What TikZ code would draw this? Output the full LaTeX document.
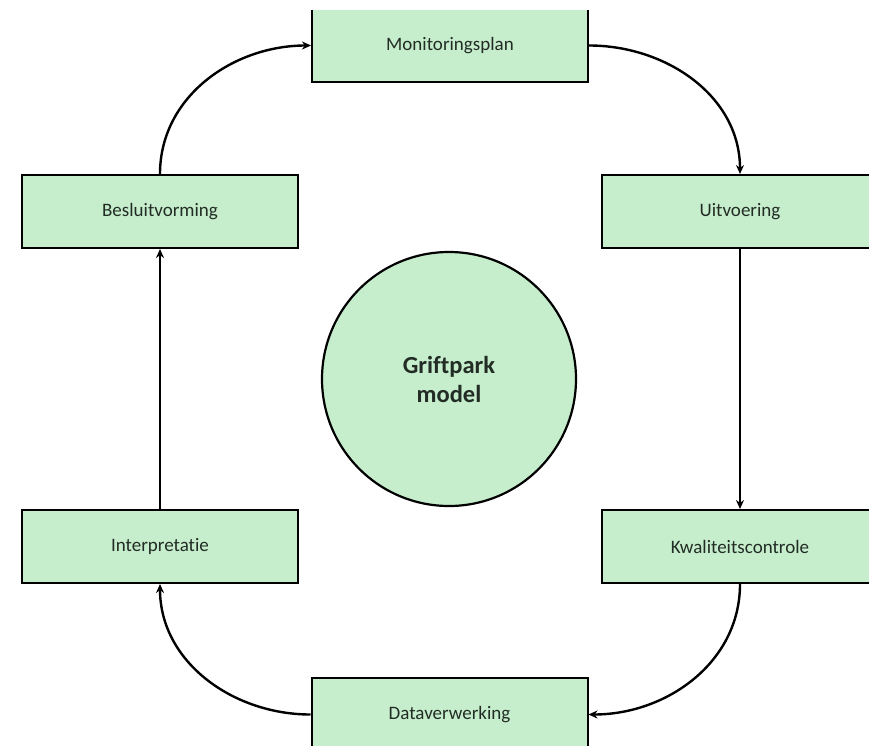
\documentclass[tikz,border=0pt]{standalone}
\usepackage{fontspec}
\setmainfont[Ligatures=NoCommon]{Carlito}
\usetikzlibrary{arrows.meta}
\definecolor{boxfill}{RGB}{198,238,205}
\definecolor{txt}{RGB}{34,44,36}
\tikzset{
  stepbox/.style={draw=black, line width=2pt, fill=boxfill, minimum width=276pt, minimum height=73pt, inner sep=0pt, text=txt, font=\fontsize{19}{22}\selectfont},
  hub/.style={draw=black, line width=2.2pt, fill=boxfill, circle, minimum size=254pt, inner sep=0pt, text=txt, align=center, font=\bfseries\fontsize{24.5}{29}\selectfont},
  flow/.style={line width=2.4pt, -{Stealth[length=9pt,width=8pt]}}
}
\begin{document}
\begin{tikzpicture}[x=1pt,y=-1pt]
\useasboundingbox (0,0) rectangle (869,746);
\clip (0,10.5) rectangle (869,746);
\node[stepbox] (mon) at (450,45.5) {Monitoringsplan};
\node[stepbox] (uit) at (740,211.5) {Uitvoering};
\node[stepbox] (kwa) at (740,546.5) {Kwaliteitscontrole};
\node[stepbox] (dat) at (449.5,714.5) {Dataverwerking};
\node[stepbox] (int) at (160,546.5) {Interpretatie};
\node[stepbox] (bes) at (160,211.5) {Besluitvorming};
\node[hub] (gm) at (449,379) {Griftpark\\model};
\draw[flow] (mon.east) to[out=0,in=90] (uit.north);
\draw[flow] (uit.south) -- (kwa.north);
\draw[flow] (kwa.south) to[out=-90,in=0] (dat.east);
\draw[flow] (dat.west) to[out=180,in=-90] (int.south);
\draw[flow] (int.north) -- (bes.south);
\draw[flow] (bes.north) to[out=90,in=180] (mon.west);
\end{tikzpicture}
\end{document}
